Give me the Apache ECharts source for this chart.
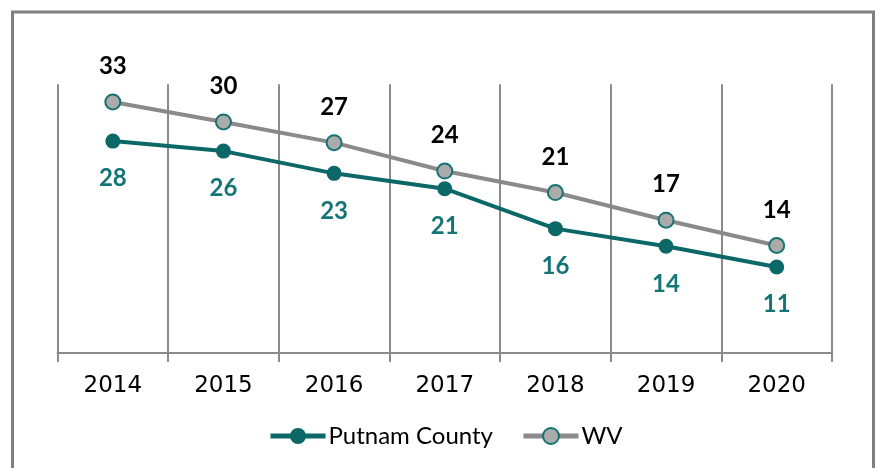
<!DOCTYPE html>
<html>
<head>
<meta charset="utf-8">
<script src="https://cdn.jsdelivr.net/npm/echarts@6/dist/echarts.min.js"></script>
<style>
  html, body { margin: 0; padding: 0; background: #fff; }
  #chart { width: 879px; height: 468px; }
</style>
</head>
<body>
<div id="chart"></div>
<script>
// data (labels show the rounded values)
const years = ["2014", "2015", "2016", "2017", "2018", "2019", "2020"];
const putnam = [27.6, 26.3, 23.4, 21.4, 16.2, 13.9, 11.2];
const wv = [32.7, 30.1, 27.4, 23.7, 20.9, 17.3, 14.0];

const teal = "#0c6767";
const tealText = "#147575";
const gray = "#8a8a8a";
const font = "Lato";

const chart = echarts.init(document.getElementById("chart"));

const option = {
  animation: false,
  backgroundColor: "#fff",
  textStyle: { fontFamily: font },
  graphic: [
    {
      type: "rect",
      shape: { x: 12.5, y: 12, width: 861, height: 500 },
      style: { fill: "none", stroke: "#808080", lineWidth: 3 },
      silent: true
    }
  ],
  grid: { left: 57.5, right: 47, top: 84.3, bottom: 115 },
  legend: {
    top: 419,
    left: 263,
    itemWidth: 55,
    itemHeight: 20,
    itemGap: 28,
    lineStyle: { width: 5 },
    textStyle: { fontFamily: font, fontSize: 24, color: "#000", padding: [0, 0, 0, -2] },
    data: ["Putnam County", "WV"]
  },
  xAxis: {
    type: "category",
    data: years,
    boundaryGap: true,
    axisLine: { lineStyle: { color: gray, width: 2 } },
    axisTick: { show: true, length: 9, lineStyle: { color: gray, width: 2 } },
    splitLine: { show: true, lineStyle: { color: gray, width: 2 } },
    axisLabel: { fontFamily: "DejaVu Sans", fontSize: 23, color: "#000", margin: 22 }
  },
  yAxis: {
    type: "value",
    min: 0,
    max: 35,
    show: false,
    splitLine: { show: false }
  },
  series: [
    {
      name: "Putnam County",
      type: "line",
      data: putnam,
      symbol: "circle",
      symbolSize: 15,
      lineStyle: { color: teal, width: 4 },
      itemStyle: { color: teal, borderColor: teal, borderWidth: 0 },
      label: {
        show: true,
        position: "bottom",
        distance: 18,
        fontFamily: font,
        fontSize: 24,
        fontWeight: "bold",
        color: tealText,
        formatter: (p) => Math.round(p.value)
      },
      z: 3
    },
    {
      name: "WV",
      type: "line",
      data: wv,
      symbol: "circle",
      symbolSize: 15,
      lineStyle: { color: gray, width: 4 },
      itemStyle: { color: "#ababab", borderColor: "#177373", borderWidth: 2 },
      label: {
        show: true,
        position: "top",
        distance: 15,
        fontFamily: font,
        fontSize: 24,
        fontWeight: "bold",
        color: "#000",
        formatter: (p) => Math.round(p.value)
      },
      z: 4
    }
  ]
};

chart.setOption(option);
</script>
</body>
</html>
